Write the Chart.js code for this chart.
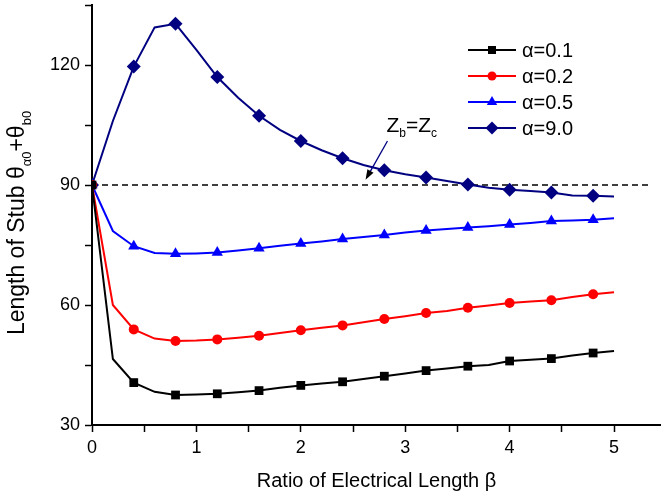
<!DOCTYPE html>
<html>
<head>
<meta charset="utf-8">
<script src="https://cdn.jsdelivr.net/npm/chart.js@4"></script>
<style>
  body { margin: 0; background: #fff; }
</style>
</head>
<body>
<canvas id="myChart" width="661" height="496"></canvas>
<script>
// beta values, one every 0.2
const betas = [0, 0.2, 0.4, 0.6, 0.8, 1.0, 1.2, 1.4, 1.6, 1.8, 2.0, 2.2, 2.4, 2.6, 2.8, 3.0, 3.2, 3.4, 3.6, 3.8, 4.0, 4.2, 4.4, 4.6, 4.8, 5.0];

const alpha01 = [90, 46.5, 40.6, 38.3, 37.5, 37.6, 37.8, 38.2, 38.6, 39.3, 39.9, 40.4, 40.8, 41.5, 42.2, 42.9, 43.6, 44.1, 44.7, 45.0, 46.0, 46.3, 46.6, 47.4, 48.0, 48.5];
const alpha02 = [90, 60.0, 53.9, 51.6, 51.0, 51.1, 51.4, 51.8, 52.3, 53.0, 53.7, 54.3, 54.9, 55.7, 56.5, 57.2, 58.0, 58.5, 59.3, 59.9, 60.5, 60.9, 61.2, 62.0, 62.7, 63.2];
const alpha05 = [90, 78.5, 74.7, 73.0, 72.8, 72.9, 73.1, 73.6, 74.2, 74.8, 75.4, 75.9, 76.5, 77.0, 77.5, 78.1, 78.6, 79.0, 79.4, 79.7, 80.1, 80.5, 81.0, 81.1, 81.3, 81.7];
const alpha90 = [90, 106, 119.6, 129.4, 130.3, 123.8, 117.0, 111.8, 107.3, 103.8, 101.0, 98.7, 96.7, 95.0, 93.7, 92.7, 91.9, 91.0, 90.1, 89.3, 88.8, 88.5, 88.1, 87.4, 87.3, 87.1];

const seriesLabels = ['\u03b1=0.1', '\u03b1=0.2', '\u03b1=0.5', '\u03b1=9.0'];

const xTitle = 'Ratio of Electrical Length \u03b2';
const refLevel = 90;
const refLineEnd = 5.33;

// Zb=Zc note and arrow (data coords)
const noteAt = { x: 2.82, y: 103.3 };
const arrowFrom = { x: 2.83, y: 101 };
const arrowTo = { x: 2.62, y: 91.3 };

const toPoints = ys => ys.map((y, i) => ({ x: betas[i], y: y }));
// markers every 0.4, none on the last point
const markerRadius = r => ctx => (ctx.dataIndex % 2 === 0 && ctx.dataIndex < betas.length - 1) ? r : 0;

function series(label, ys, color, style, r) {
  return {
    label: label,
    data: toPoints(ys),
    borderColor: color,
    backgroundColor: color,
    borderWidth: 2,
    pointStyle: style,
    pointRadius: markerRadius(r),
    pointHoverRadius: markerRadius(r),
    pointBorderWidth: 0,
    markerSize: r,
    fill: false,
    tension: 0
  };
}

const datasets = [
  {
    label: 'ref',
    data: [{ x: 0, y: refLevel }, { x: refLineEnd, y: refLevel }],
    borderColor: '#000',
    borderWidth: 1.5,
    borderDash: [6, 4],
    pointRadius: 0,
    order: 10
  },
  series(seriesLabels[0], alpha01, '#000000', 'rect', 6.2),
  series(seriesLabels[1], alpha02, '#ff0000', 'circle', 5),
  series(seriesLabels[2], alpha05, '#0000ff', 'triangle', 6.5),
  series(seriesLabels[3], alpha90, '#000080', 'rectRot', 7)
];

const drawExtras = {
  id: 'drawExtras',
  afterDraw(chart) {
    const ctx = chart.ctx;
    const xs = chart.scales.x, ys = chart.scales.y;
    ctx.save();
    ctx.fillStyle = '#000';
    ctx.strokeStyle = '#000';

    // legend
    const rows = [50, 76, 102, 128];
    chart.data.datasets.slice(1).forEach((ds, i) => {
      const y = rows[i];
      ctx.strokeStyle = ds.borderColor;
      ctx.lineWidth = 2;
      ctx.beginPath();
      ctx.moveTo(468, y);
      ctx.lineTo(516, y);
      ctx.stroke();
      ctx.fillStyle = ds.backgroundColor;
      Chart.helpers.drawPoint(ctx, { pointStyle: ds.pointStyle, radius: ds.markerSize - 0.5, rotation: 0, borderWidth: 0 }, 492, y);
      ctx.fillStyle = '#000';
      ctx.font = '20px "Liberation Sans", Arial, sans-serif';
      ctx.textAlign = 'left';
      ctx.textBaseline = 'middle';
      ctx.fillText(ds.label, 522, y + 1);
    });

    // Zb=Zc note
    let x = xs.getPixelForValue(noteAt.x);
    const by = ys.getPixelForValue(noteAt.y);
    ctx.textBaseline = 'alphabetic';
    const parts = [['Z', 21, 0], ['b', 12, 5], ['=Z', 21, 0], ['c', 12, 5]];
    parts.forEach(p => {
      ctx.font = p[1] + 'px "Liberation Sans", Arial, sans-serif';
      ctx.fillText(p[0], x, by + p[2]);
      x += ctx.measureText(p[0]).width;
    });

    // arrow
    const x1 = xs.getPixelForValue(arrowFrom.x), y1 = ys.getPixelForValue(arrowFrom.y);
    const x2 = xs.getPixelForValue(arrowTo.x), y2 = ys.getPixelForValue(arrowTo.y);
    const ang = Math.atan2(y2 - y1, x2 - x1);
    ctx.lineWidth = 1.3;
    ctx.beginPath();
    ctx.moveTo(x1, y1);
    ctx.lineTo(x2 - 6 * Math.cos(ang), y2 - 6 * Math.sin(ang));
    ctx.stroke();
    ctx.beginPath();
    ctx.moveTo(x2, y2);
    ctx.lineTo(x2 - 10 * Math.cos(ang) + 3.5 * Math.sin(ang), y2 - 10 * Math.sin(ang) - 3.5 * Math.cos(ang));
    ctx.lineTo(x2 - 10 * Math.cos(ang) - 3.5 * Math.sin(ang), y2 - 10 * Math.sin(ang) + 3.5 * Math.cos(ang));
    ctx.closePath();
    ctx.fill();

    // y title with subscripts
    const yParts = [['Length of Stub \u03b8', 23, 0], ['\u03b10', 13, 7], ['+\u03b8', 23, 0], ['b0', 13, 7]];
    let total = 0;
    yParts.forEach(p => {
      ctx.font = p[1] + 'px "Liberation Sans", Arial, sans-serif';
      total += ctx.measureText(p[0]).width;
    });
    ctx.translate(24, (chart.chartArea.top + chart.chartArea.bottom) / 2 + 8);
    ctx.rotate(-Math.PI / 2);
    let tx = -total / 2;
    yParts.forEach(p => {
      ctx.font = p[1] + 'px "Liberation Sans", Arial, sans-serif';
      ctx.fillText(p[0], tx, p[2]);
      tx += ctx.measureText(p[0]).width;
    });
    ctx.restore();
  }
};

const tickFont = { family: '"Liberation Sans", Arial, sans-serif', size: 18 };

new Chart(document.getElementById('myChart'), {
  type: 'line',
  data: { datasets: datasets },
  options: {
    responsive: false,
    animation: false,
    devicePixelRatio: 1,
    layout: { autoPadding: false, padding: { top: 5, right: 0, left: 0, bottom: 0 } },
    plugins: {
      legend: { display: false },
      tooltip: { enabled: false }
    },
    scales: {
      x: {
        type: 'linear',
        min: 0,
        max: 5.45,
        afterFit: s => { s.height = 71; s.paddingLeft = 0; s.paddingRight = 0; },
        border: { color: '#000', width: 2 },
        grid: { drawOnChartArea: false, drawTicks: true, tickLength: 7, tickColor: '#000', tickWidth: 1.5 },
        ticks: {
          stepSize: 0.5,
          includeBounds: false,
          autoSkip: false,
          maxRotation: 0,
          color: '#000',
          font: tickFont,
          padding: 5,
          callback: v => Number.isInteger(v) ? v : ''
        },
        title: {
          display: true,
          text: xTitle,
          color: '#000',
          font: { family: '"Liberation Sans", Arial, sans-serif', size: 20 },
          padding: { top: 0, bottom: 3 }
        }
      },
      y: {
        min: 30,
        max: 135,
        afterFit: s => { s.width = 92; s.paddingTop = 0; s.paddingBottom = 0; },
        border: { color: '#000', width: 2 },
        grid: { drawOnChartArea: false, drawTicks: true, tickLength: 7, tickColor: '#000', tickWidth: 1.5 },
        ticks: {
          stepSize: 15,
          autoSkip: false,
          color: '#000',
          font: tickFont,
          padding: 5,
          callback: v => v % 30 === 0 ? v : ''
        }
      }
    }
  },
  plugins: [drawExtras]
});
</script>
</body>
</html>
